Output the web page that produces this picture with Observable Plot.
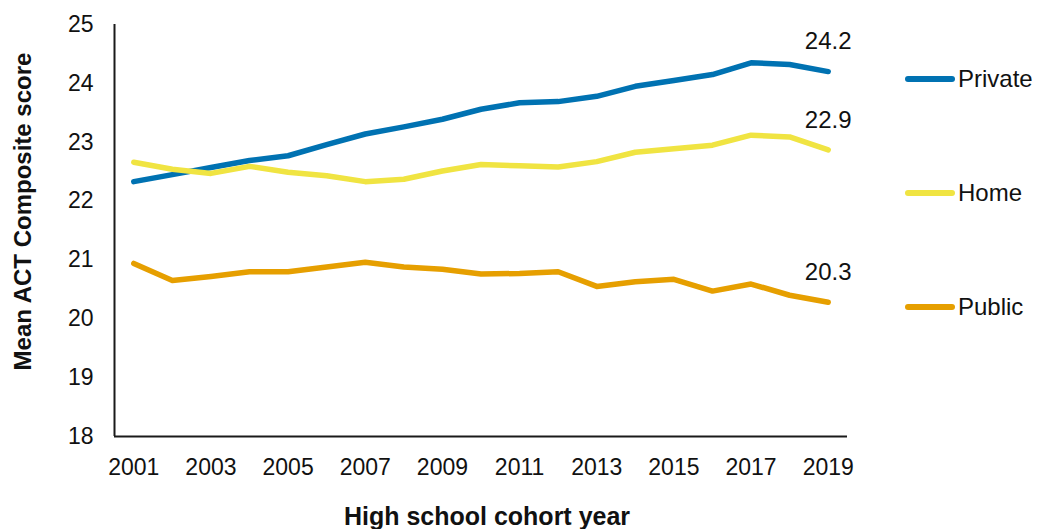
<!DOCTYPE html>
<html>
<head>
<meta charset="utf-8">
<script src="https://cdn.jsdelivr.net/npm/d3@7"></script>
<script src="https://cdn.jsdelivr.net/npm/@observablehq/plot@0.6"></script>
<style>
  html, body { margin: 0; padding: 0; background: #fff; }
  #wrap { position: relative; width: 1037px; height: 529px; font-family: "Liberation Sans", Arial, sans-serif; }
  .leg { position: absolute; left: 905px; display: flex; align-items: center; height: 30px; }
  .leg .sw { width: 50px; height: 6px; border-radius: 3px; }
  .leg .lb { margin-left: 3px; font-size: 24px; color: #111; }
</style>
</head>
<body>
<div id="wrap"></div>
<script>
const years = [2001, 2002, 2003, 2004, 2005, 2006, 2007, 2008, 2009, 2010, 2011, 2012, 2013, 2014, 2015, 2016, 2017, 2018, 2019];
const privateScores = [22.33, 22.45, 22.57, 22.69, 22.77, 22.96, 23.14, 23.26, 23.39, 23.56, 23.67, 23.69, 23.78, 23.95, 24.05, 24.15, 24.35, 24.32, 24.2];
const homeScores = [22.66, 22.54, 22.47, 22.59, 22.49, 22.43, 22.33, 22.37, 22.51, 22.62, 22.6, 22.58, 22.67, 22.83, 22.89, 22.95, 23.12, 23.09, 22.87];
const publicScores = [20.94, 20.65, 20.72, 20.8, 20.8, 20.88, 20.96, 20.88, 20.84, 20.76, 20.77, 20.8, 20.55, 20.63, 20.67, 20.47, 20.59, 20.4, 20.28];
const sectors = ["Private", "Home", "Public"];
const sectorColors = ["#0072B2", "#F0E442", "#E69F00"];
const xTicks = [2001, 2003, 2005, 2007, 2009, 2011, 2013, 2015, 2017, 2019];
const yTicks = [18, 19, 20, 21, 22, 23, 24, 25];
const xDomain = [2000.5, 2019.5];
const yDomain = [18, 25];
const yLabel = "Mean ACT Composite score";
const xLabel = "High school cohort year";

const series = {Private: privateScores, Home: homeScores, Public: publicScores};
const rows = sectors.flatMap(s => years.map((y, i) => ({sector: s, year: y, score: series[s][i]})));
const lastRows = sectors.map(s => ({sector: s, year: years[years.length - 1], score: series[s][years.length - 1]}));

const axisColor = "#1a1a1a";
const chart = Plot.plot({
  width: 1037,
  height: 529,
  marginLeft: 114,
  marginRight: 190,
  marginTop: 24,
  marginBottom: 93,
  x: {domain: xDomain},
  y: {domain: yDomain},
  color: {domain: sectors, range: sectorColors},
  style: {fontFamily: "'Liberation Sans', Arial, sans-serif", fontSize: "23px", color: "#111", background: "white", overflow: "visible"},
  marks: [
    Plot.axisY({ticks: yTicks, tickSize: 0, tickPadding: 21, tickFormat: d => String(d), label: null, fontSize: 23}),
    Plot.axisX({ticks: xTicks, tickSize: 0, tickPadding: 22, tickFormat: d => String(d), label: null, fontSize: 23}),
    Plot.ruleX([xDomain[0]], {y1: yDomain[0], y2: yDomain[1], stroke: axisColor, strokeWidth: 2}),
    Plot.ruleY([yDomain[0]], {stroke: axisColor, strokeWidth: 2}),
    Plot.line(rows, {x: "year", y: "score", z: "sector", stroke: "sector", strokeWidth: 5.5, strokeLinecap: "round", strokeLinejoin: "round"}),
    Plot.text(lastRows, {x: "year", y: "score", text: d => d.score.toFixed(1), dy: -30, fontSize: 24, fill: "#111"}),
    Plot.text([yLabel], {text: d => d, frameAnchor: "left", textAnchor: "middle", lineAnchor: "middle", dx: -91, dy: -19, rotate: -90, fontWeight: "bold", fontSize: 24, fill: "#111"}),
    Plot.text([xLabel], {text: d => d, frameAnchor: "bottom", textAnchor: "middle", lineAnchor: "middle", dx: 6, dy: 80, fontWeight: "bold", fontSize: 25, fill: "#111"})
  ]
});
const wrap = document.getElementById("wrap");
wrap.appendChild(chart);

const legendY = [79, 193, 307];
sectors.forEach((s, i) => {
  const item = document.createElement("div");
  item.className = "leg";
  item.style.top = (legendY[i] - 15) + "px";
  const sw = document.createElement("div");
  sw.className = "sw";
  sw.style.background = sectorColors[i];
  const lb = document.createElement("div");
  lb.className = "lb";
  lb.textContent = s;
  item.appendChild(sw);
  item.appendChild(lb);
  wrap.appendChild(item);
});
</script>
</body>
</html>
